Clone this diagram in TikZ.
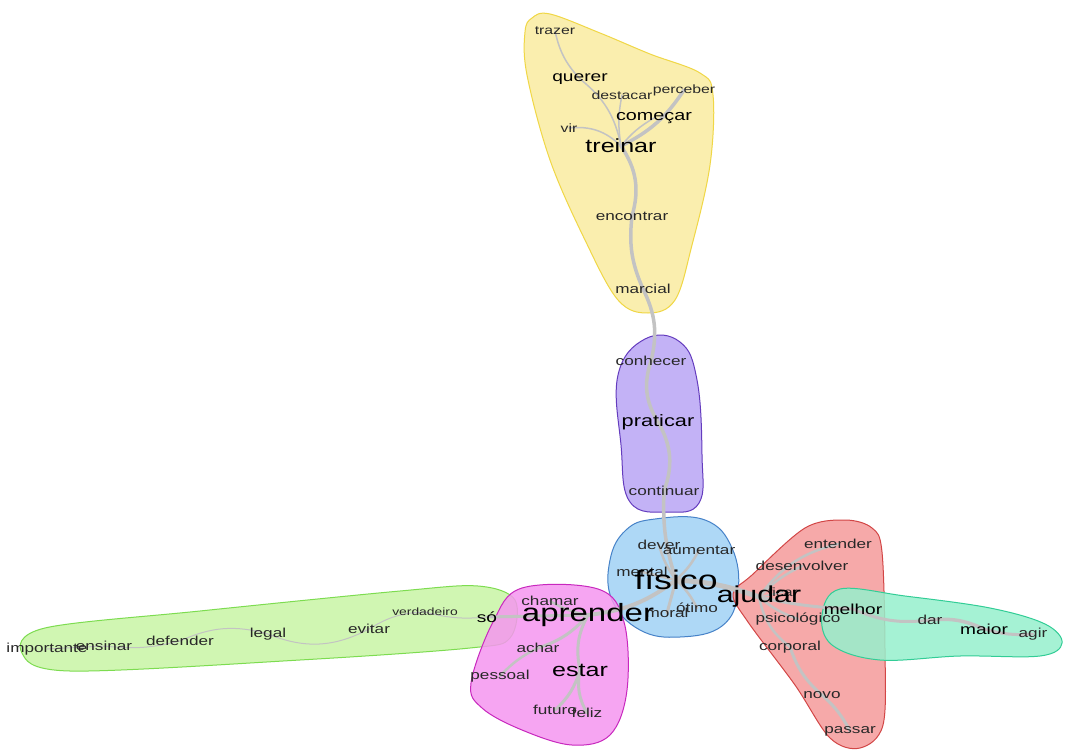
\documentclass[tikz,border=0pt]{standalone}
\usepackage{fontspec}
\setmainfont{Liberation Sans}[FakeStretch=1.32]
\pgfdeclarelayer{bg}\pgfdeclarelayer{hulls}\pgfdeclarelayer{edges}
\pgfsetlayers{bg,hulls,edges,main}
\definecolor{yfill}{RGB}{250,236,160}\definecolor{ydraw}{RGB}{240,215,70}
\definecolor{pfill}{RGB}{185,165,245}\definecolor{pdraw}{RGB}{100,60,190}
\definecolor{bfill}{RGB}{160,210,245}\definecolor{bdraw}{RGB}{70,130,200}
\definecolor{rfill}{RGB}{245,155,155}\definecolor{rdraw}{RGB}{210,70,70}
\definecolor{tfill}{RGB}{150,240,205}\definecolor{tdraw}{RGB}{50,205,150}
\definecolor{gfill}{RGB}{200,245,165}\definecolor{gdraw}{RGB}{125,220,80}
\definecolor{kfill}{RGB}{245,150,240}\definecolor{kdraw}{RGB}{200,40,190}
\definecolor{edgecol}{RGB}{195,195,195}
\definecolor{txt}{RGB}{40,40,40}
\tikzset{
 hull/.style={line width=1pt, fill opacity=0.85},
 edge/.style={draw=edgecol, line width=1.5pt, line cap=round},
 thick edge/.style={edge, line width=3.5pt},
 lbl/.style={text=txt, inner sep=0pt, font=\fontsize{12}{12}\selectfont},
 mid/.style={font=\fontsize{13}{13}\selectfont},
 big/.style={text=black, font=\fontsize{#1}{#1}\selectfont},
}
\begin{document}
\begin{tikzpicture}[x=1pt,y=-1pt]
\begin{pgfonlayer}{bg}
\fill[white] (0,0) rectangle (1065,752);
\end{pgfonlayer}
\useasboundingbox (0,0) rectangle (1065,752);
% yellow cluster
\node[lbl] (trazer) at (555,31) {trazer};
\node[lbl,big=14.5] (querer) at (580,79) {querer};
\node[lbl] (destacar) at (622,95) {destacar};
\node[lbl] (perceber) at (684,90) {perceber};
\node[lbl,big=15] (comecar) at (654,118) {começar};
\node[lbl] (vir) at (569,128) {vir};
\node[lbl,big=19] (treinar) at (621,146) {treinar};
\node[lbl,mid] (encontrar) at (632,216) {encontrar};
\node[lbl,mid] (marcial) at (643,289) {marcial};
% purple
\node[lbl,mid] (conhecer) at (651,361) {conhecer};
\node[lbl,big=16.5] (praticar) at (658,422) {praticar};
\node[lbl,mid] (continuar) at (664,491) {continuar};
% blue
\node[lbl,mid] (dever) at (659,545) {dever};
\node[lbl,mid] (aumentar) at (699,550) {aumentar};
\node[lbl,mid] (mental) at (642,572) {mental};
\node[lbl,mid] (moral) at (667,613) {moral};
\node[lbl,mid] (otimo) at (697,608) {ótimo};
\node[lbl,big=27] (fisico) at (676,580) {físico};
% red
\node[lbl,mid] (entender) at (838,544) {entender};
\node[lbl,mid] (desenvolver) at (802,566) {desenvolver};
\node[lbl] (ficar) at (783,592) {ficar};
\node[lbl,big=23] (ajudar) at (759,597) {ajudar};
\node[lbl,mid] (psicologico) at (798,619) {psicológico};
\node[lbl,mid] (corporal) at (790,647) {corporal};
\node[lbl,mid] (novo) at (822,695) {novo};
\node[lbl,mid] (passar) at (850,731) {passar};
% teal
\node[lbl,big=14.5] (melhor) at (853,609) {melhor};
\node[lbl,mid] (dar) at (930,620) {dar};
\node[lbl,big=14.5] (maior) at (984,629) {maior};
\node[lbl,mid] (agir) at (1033,634) {agir};
% green
\node[lbl,font=\fontsize{10.5}{10}\selectfont] (verdadeiro) at (425,612) {verdadeiro};
\node[lbl,big=14.5] (so) at (487,617) {só};
\node[lbl,mid] (evitar) at (369,629) {evitar};
\node[lbl,mid] (legal) at (268,634) {legal};
\node[lbl,mid] (defender) at (180,641) {defender};
\node[lbl,mid] (ensinar) at (104,646) {ensinar};
\node[lbl,mid] (importante) at (47,649) {importante};
% pink
\node[lbl,mid] (chamar) at (550,601) {chamar};
\node[lbl,big=25] (aprender) at (588,615) {aprender};
\node[lbl,mid] (achar) at (538,648) {achar};
\node[lbl,big=19] (estar) at (580,670) {estar};
\node[lbl,mid] (pessoal) at (500,676) {pessoal};
\node[lbl,mid] (futuro) at (555,710) {futuro};
\node[lbl,mid] (feliz) at (587,713) {feliz};

\begin{pgfonlayer}{hulls}
\filldraw[hull,fill=yfill,draw=ydraw] plot[smooth cycle,tension=0.6] coordinates{
 (532,18) (550,14) (600,33) (650,54) (700,73) (713,95) (710,165) (692,245) (675,300) (648,313) (618,300) (585,240) (550,160) (527,75) (525,32)};
\filldraw[hull,fill=pfill,draw=pdraw] plot[smooth cycle,tension=0.7] coordinates{
 (645,339) (680,342) (697,380) (702,455) (699,503) (668,512) (630,502) (621,445) (618,375)};
\filldraw[hull,fill=bfill,draw=bdraw] plot[smooth cycle,tension=0.7] coordinates{
 (655,519) (705,520) (732,548) (738,592) (722,626) (680,637) (640,630) (612,600) (610,560) (626,530)};
\filldraw[hull,fill=rfill,draw=rdraw] plot[smooth cycle,tension=0.55] coordinates{
 (805,528) (845,520) (872,528) (882,552) (885,650) (883,725) (860,748) (830,738) (795,685) (748,622) (733,594) (752,575)};
\filldraw[hull,fill=tfill,draw=tdraw] plot[smooth cycle,tension=0.6] coordinates{
 (840,589) (905,596) (990,608) (1045,624) (1062,643) (1040,656) (960,656) (880,660) (832,645) (822,615)};
\filldraw[hull,fill=gfill,draw=gdraw] plot[smooth cycle,tension=0.55] coordinates{
 (45,628) (200,611) (400,591) (478,586) (515,600) (510,638) (470,648) (300,660) (70,671) (22,653)};
\filldraw[hull,fill=kfill,draw=kdraw] plot[smooth cycle,tension=0.6] coordinates{
 (522,588) (598,589) (624,622) (627,690) (610,735) (572,745) (522,730) (482,708) (471,683) (493,622)};
\end{pgfonlayer}

\begin{pgfonlayer}{edges}
% yellow
\draw[edge] (trazer.center) to[bend right=15] (querer.center);
\draw[edge] (querer.center) to[bend left=20] (treinar.center);
\draw[edge] (destacar.center) to[bend right=10] (treinar.center);
\draw[edge] (vir.center) to[bend left=25] (treinar.center);
\draw[edge] (comecar.center) to[bend right=10] (treinar.center);
\draw[thick edge] (perceber.center) to[bend left=15] (treinar.center);
\draw[thick edge] (treinar.center) to[bend left=25] (encontrar.center);
\draw[thick edge] (encontrar.center) to[bend right=15] (marcial.center);
\draw[thick edge] (marcial.center) to[bend left=20] (conhecer.center);
\draw[thick edge] (conhecer.center) to[bend right=25] (praticar.center);
\draw[thick edge] (praticar.center) to[bend left=25] (continuar.center);
\draw[thick edge] (continuar.center) to[bend right=10] (fisico.center);
% blue
\draw[edge,line width=2.5pt] (fisico.center) to[bend left=10] (dever.center);
\draw[edge,line width=2.5pt] (fisico.center) to[bend right=10] (aumentar.center);
\draw[edge,line width=2.5pt] (fisico.center) to (mental.center);
\draw[edge,line width=2.5pt] (fisico.center) to[bend left=10] (otimo.center);
\draw[edge,line width=3pt] (fisico.center) to (moral.center);
\draw[edge,line width=5pt] (fisico.center) to[bend left=8] (ajudar.center);
\draw[edge,line width=4pt] (fisico.center) to[bend left=15] (aprender.center);
% red
\draw[edge,line width=2.5pt] (ajudar.center) to[bend left=20] (entender.center);
\draw[edge,line width=2.5pt] (ajudar.center) to[bend left=10] (desenvolver.center);
\draw[edge] (ajudar.center) to (ficar.center);
\draw[edge,line width=2.5pt] (ajudar.center) to[bend right=10] (psicologico.center);
\draw[edge,line width=2.5pt] (ajudar.center) to[bend right=20] (corporal.center);
\draw[edge,line width=3pt] (corporal.center) to[bend right=15] (novo.center);
\draw[edge,line width=3pt] (novo.center) to[bend left=10] (passar.center);
\draw[edge,line width=3pt] (ajudar.center) to[bend right=5] (melhor.center);
\draw[edge,line width=3pt] (melhor.center) to[bend right=15] (dar.center);
\draw[edge,line width=3.5pt] (dar.center) to[bend left=15] (maior.center);
\draw[edge,line width=3pt] (maior.center) to[bend right=10] (agir.center);
% pink
\draw[edge,line width=2.5pt] (aprender.center) to[bend left=10] (chamar.center);
\draw[edge,line width=3pt] (aprender.center) to (so.center);
\draw[edge,line width=3pt] (aprender.center) to[bend left=15] (achar.center);
\draw[edge,line width=2.5pt] (achar.center) to[bend right=10] (pessoal.center);
\draw[edge,line width=3pt] (aprender.center) to[bend right=20] (estar.center);
\draw[edge,line width=3pt] (estar.center) to[bend left=15] (futuro.center);
\draw[edge,line width=3pt] (estar.center) to[bend right=20] (feliz.center);
% green
\draw[edge,line width=1pt] (so.center) to[bend left=10] (verdadeiro.center);
\draw[edge,line width=1pt] (verdadeiro.center) to[bend right=15] (evitar.center);
\draw[edge,line width=1pt] (evitar.center) to[bend left=25] (legal.center);
\draw[edge,line width=1pt] (legal.center) to[bend right=20] (defender.center);
\draw[edge,line width=1pt] (defender.center) to[bend left=10] (ensinar.center);
\draw[edge,line width=1pt] (ensinar.center) to (importante.center);
\end{pgfonlayer}
\end{tikzpicture}
\end{document}
